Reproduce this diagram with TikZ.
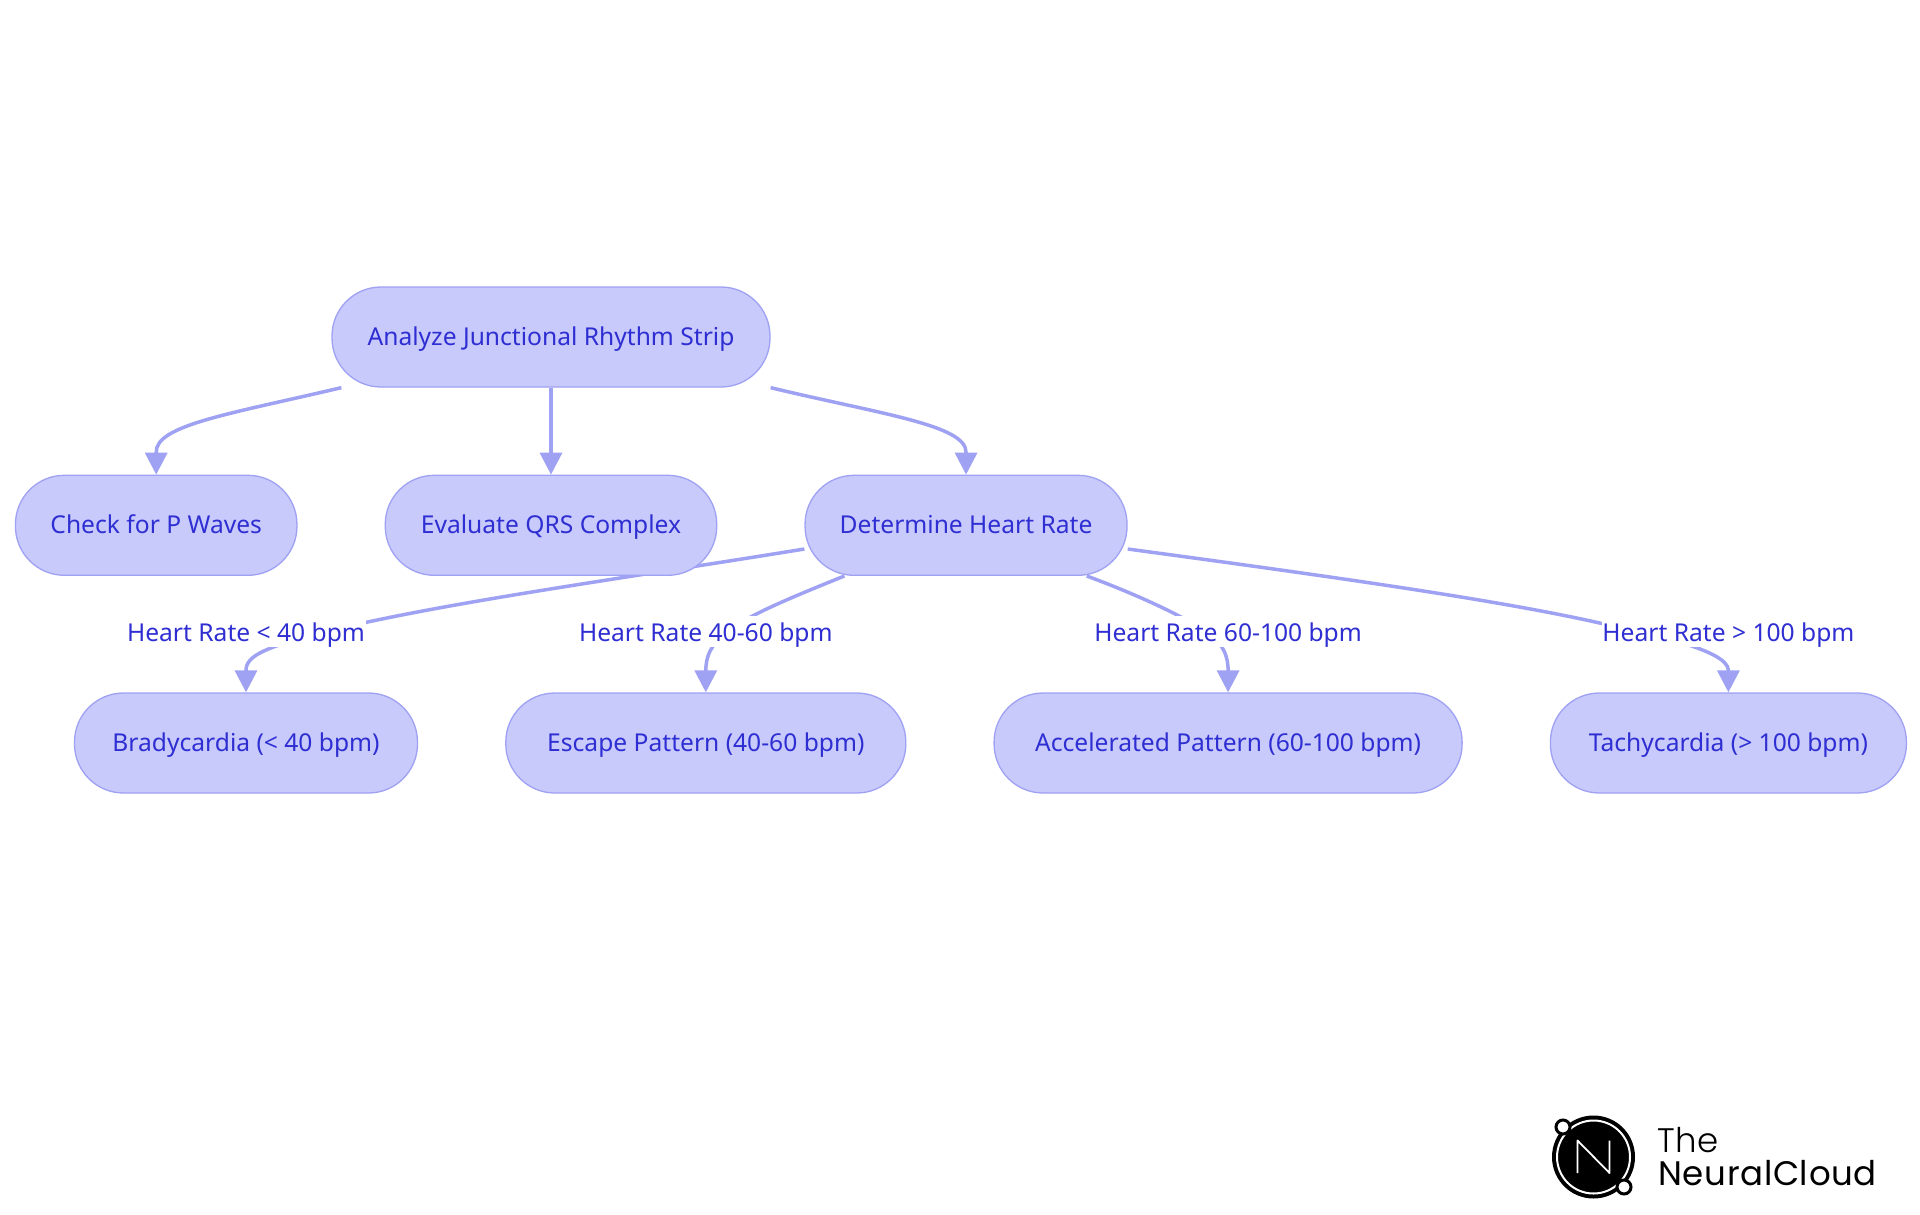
\documentclass[tikz,border=0pt]{standalone}
\usepackage{fontspec}
\setmainfont{Noto Sans}
\newfontfamily\logothin[LetterSpace=2]{Poppins Light}
\newfontfamily\logomed[LetterSpace=2]{Poppins}
\usetikzlibrary{arrows.meta,positioning,backgrounds}
\definecolor{nodeFill}{HTML}{C8CAFC}
\definecolor{nodeLine}{HTML}{9FA1F3}
\definecolor{nodeText}{HTML}{2E2ED2}

\begin{document}
\begin{tikzpicture}[
        x=1pt, y=1pt,
        node distance=87pt,
        box/.style={rectangle, rounded corners=49pt, draw=nodeLine, fill=nodeFill, line width=1.3pt, minimum height=100pt, align=center, text=nodeText, text height=20pt, text depth=4pt, font=\fontsize{24.6}{29}\selectfont},
        lbl/.style={rectangle, fill=white, inner sep=0pt, minimum height=31pt, text=nodeText, text height=22pt, text depth=2pt, font=\fontsize{24.6}{29}\selectfont},
        link/.style={line width=3.5pt, draw=nodeLine},
        arrow/.style={link, -{Triangle[length=22pt,width=22pt]}}
      ]
        \useasboundingbox (0,0) rectangle (1920,-1215);
        \node[box, minimum width=438pt] (root) at (551,-337) {Analyze Junctional Rhythm Strip};
        \node[box, minimum width=331.5pt, below=of root] (qrs) {Evaluate QRS Complex};
        \node[box, minimum width=281.5pt, left=of qrs] (pwaves) {Check for P Waves};
        \node[box, minimum width=322pt, right=of qrs] (rate) {Determine Heart Rate};
        \node[box, minimum width=343pt] (brady) at (246,-743) {Bradycardia (< 40 bpm)};
        \node[box, minimum width=400pt, right=of brady] (escape) {Escape Pattern (40-60 bpm)};
        \node[box, minimum width=468pt, right=of escape] (accel) {Accelerated Pattern (60-100 bpm)};
        \node[box, minimum width=356pt, right=of accel] (tachy) {Tachycardia (> 100 bpm)};
        \node[lbl, minimum width=239pt, above=45pt of brady] (lbrady) {Heart Rate < 40 bpm};
        \node[lbl, minimum width=260.5pt, above=45pt of escape] (lescape) {Heart Rate 40-60 bpm};
        \node[lbl, minimum width=271pt, above=45pt of accel] (laccel) {Heart Rate 60-100 bpm};
        \node[lbl, minimum width=249pt, above=45pt of tachy] (ltachy) {Heart Rate > 100 bpm};
        \begin{scope}[on background layer]
          \draw[arrow] ([xshift=10pt]root.south west) .. controls (230,-414) and (155,-425) .. ([yshift=22pt]pwaves.north) -- (pwaves.north);
          \draw[arrow] (root) -- (qrs);
          \draw[arrow] (root.south east) .. controls (880,-414) and (967,-425) .. ([yshift=22pt]rate.north) -- (rate.north);
          \draw[arrow] (rate.west |- 0,-549) .. controls (620,-579) and (440,-603) .. (320,-633) .. controls (268,-647) and (246,-655) .. ([yshift=22pt]brady.north) -- (brady.north);
          \draw[arrow] ([xshift=40pt]rate.south west) .. controls (805,-592) and (765,-608) .. (742,-622) .. controls (722,-636) and (706,-645) .. ([yshift=22pt]escape.north) -- (escape.north);
          \draw[arrow] ([xshift=-41pt]rate.south east) .. controls (1130,-592) and (1175,-612) .. (1198,-627) .. controls (1218,-638) and (1228,-650) .. ([yshift=22pt]accel.north) -- (accel.north);
          \draw[arrow] (rate.east |- 0,-549) .. controls (1320,-575) and (1500,-600) .. (1604,-624) .. controls (1650,-634) and (1728,-650) .. ([yshift=22pt]tachy.north) -- (tachy.north);
        \end{scope}
        % logo
        \fill[black] (1593.5,-1157) circle (41.5);
        \draw[white, line width=2pt] (1593.5,-1157) circle (36.5);
        \draw[white, line width=1.8pt, line join=round] (1577.5,-1173) -- (1577.5,-1140.5) -- (1609.5,-1173) -- (1609.5,-1140.5);
        \draw[black, fill=white, line width=3pt] (1563,-1127) circle (7);
        \draw[black, fill=white, line width=3pt] (1624,-1187) circle (7);
        \node[anchor=base west, inner sep=0pt, font=\logothin\fontsize{34}{34}\selectfont] (logoa) at (1657,-1152) {The};
        \node[anchor=base west, inner sep=0pt, font=\logomed\fontsize{34}{34}\selectfont] (logob) at (1658,-1185) {NeuralCloud};
      \end{tikzpicture}
\end{document}
